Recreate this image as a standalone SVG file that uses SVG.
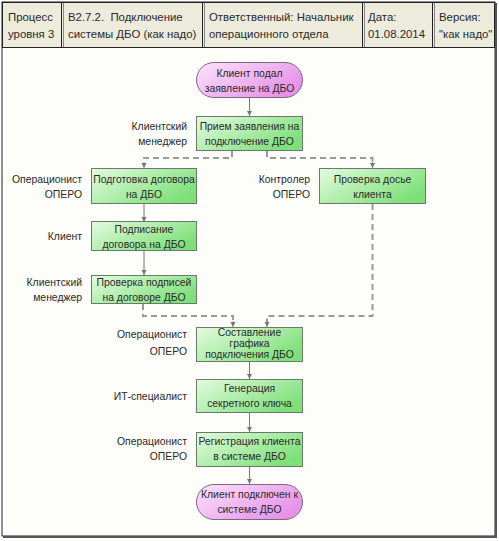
<svg xmlns="http://www.w3.org/2000/svg" width="499" height="541" viewBox="0 0 499 541">
<defs>
<linearGradient id="gGreen" x1="0" y1="0" x2="1" y2="0.6">
<stop offset="0" stop-color="#e4fbe0"/>
<stop offset="1" stop-color="#7fe07a"/>
</linearGradient>
<linearGradient id="gPink" x1="0" y1="0" x2="1" y2="0.6">
<stop offset="0" stop-color="#fde4fd"/>
<stop offset="1" stop-color="#e592e8"/>
</linearGradient>
<marker id="arr" markerWidth="6" markerHeight="6" refX="5" refY="3" orient="auto" markerUnits="userSpaceOnUse">
<path d="M0,0.5 L5,3 L0,5.5 z" fill="#777"/>
</marker>
<style>
text{font-family:"Liberation Sans",Arial,sans-serif;font-size:10.4px;fill:#2a2a2a}
.hdr{font-size:11.4px}
.c{text-anchor:middle}
.r{text-anchor:end}
.box{fill:url(#gGreen);stroke:#6a7a6a;stroke-width:1}
.term{fill:url(#gPink);stroke:#7a6a7a;stroke-width:1}
.solid{fill:none;stroke:#777;stroke-width:1;marker-end:url(#arr)}
.dash{fill:none;stroke:#999;stroke-width:2;stroke-dasharray:6,4}
.dashend{fill:none;stroke:#999;stroke-width:1;marker-end:url(#arr)}
</style>
</defs>
<rect x="0" y="0" width="499" height="541" fill="#ffffff"/>
<rect x="2" y="2" width="493" height="534" fill="#fdfdf9" stroke="#222" stroke-width="1"/>
<rect x="2.5" y="2.5" width="492" height="45" fill="#ecebdc" stroke="#222" stroke-width="1"/>
<g id="header" stroke="#222" stroke-width="1">
<line x1="61.5" y1="2" x2="61.5" y2="48"/>
<line x1="202.5" y1="2" x2="202.5" y2="48"/>
<line x1="362.5" y1="2" x2="362.5" y2="48"/>
<line x1="432.5" y1="2" x2="432.5" y2="48"/>
</g>
<g stroke="#888" stroke-width="1">
<line x1="63.5" y1="3" x2="63.5" y2="47"/>
<line x1="204.5" y1="3" x2="204.5" y2="47"/>
<line x1="364.5" y1="3" x2="364.5" y2="47"/>
<line x1="434.5" y1="3" x2="434.5" y2="47"/>
</g>
<line x1="496" y1="3" x2="496" y2="537" stroke="#555" stroke-width="2"/>
<line x1="3" y1="537" x2="497" y2="537" stroke="#555" stroke-width="2"/>
<g id="header-text">
<text class="hdr" x="8" y="21">Процесс</text>
<text class="hdr" x="8" y="38">уровня 3</text>
<text class="hdr" x="68" y="21" xml:space="preserve">B2.7.2.  Подключение</text>
<text class="hdr" x="68" y="38">системы ДБО (как надо)</text>
<text class="hdr" x="209" y="21">Ответственный: Начальник</text>
<text class="hdr" x="209" y="38">операционного отдела</text>
<text class="hdr" x="368" y="21">Дата:</text>
<text class="hdr" x="368" y="38">01.08.2014</text>
<text class="hdr" x="439" y="21">Версия:</text>
<text class="hdr" x="439" y="38">"как надо"</text>
</g>
<g id="connectors">
<line class="solid" x1="249.5" y1="98" x2="249.5" y2="116"/>
<polyline class="dash" points="232,151 232,158 144,158 144,164"/>
<line class="dashend" x1="144" y1="162" x2="144" y2="168"/>
<polyline class="dash" points="267,151 267,158 372.5,158 372.5,164"/>
<line class="dashend" x1="372.5" y1="162" x2="372.5" y2="168"/>
<line class="solid" x1="144" y1="204" x2="144" y2="222"/>
<line class="solid" x1="144" y1="251" x2="144" y2="275"/>
<polyline class="dash" points="143,304 143,316 233,316 233,323"/>
<line class="dashend" x1="233" y1="321" x2="233" y2="327"/>
<polyline class="dash" points="372.5,204 372.5,316 267,316 267,323"/>
<line class="dashend" x1="267" y1="321" x2="267" y2="327"/>
<line class="solid" x1="249.5" y1="362" x2="249.5" y2="379"/>
<line class="solid" x1="249.5" y1="413" x2="249.5" y2="432"/>
<line class="solid" x1="249.5" y1="467" x2="249.5" y2="484"/>
</g>
<g id="start">
<rect class="term" x="196.5" y="62.5" width="106" height="35" rx="17.5"/>
<text class="c" x="249.5" y="77">Клиент подал</text>
<text class="c" x="249.5" y="92">заявление на ДБО</text>
</g>
<g id="n1">
<rect class="box" x="196.5" y="116.5" width="106" height="34"/>
<text class="r" x="187" y="130">Клиентский</text>
<text class="r" x="187" y="145">менеджер</text>
<text class="c" x="249.5" y="130">Прием заявления на</text>
<text class="c" x="249.5" y="145">подключение ДБО</text>
</g>
<g id="n2">
<rect class="box" x="91.5" y="168.5" width="105" height="35"/>
<text class="r" x="82" y="183">Операционист</text>
<text class="r" x="82" y="198">ОПЕРО</text>
<text class="c" x="144" y="183">Подготовка договора</text>
<text class="c" x="144" y="198">на ДБО</text>
</g>
<g id="n3">
<rect class="box" x="319.5" y="168.5" width="106" height="35"/>
<text class="r" x="310" y="183">Контролер</text>
<text class="r" x="310" y="198">ОПЕРО</text>
<text class="c" x="372.5" y="183">Проверка досье</text>
<text class="c" x="372.5" y="198">клиента</text>
</g>
<g id="n4">
<rect class="box" x="91.5" y="221.5" width="105" height="29"/>
<text class="r" x="82" y="240">Клиент</text>
<text class="c" x="144" y="233">Подписание</text>
<text class="c" x="144" y="248">договора на ДБО</text>
</g>
<g id="n5">
<rect class="box" x="91.5" y="275.5" width="105" height="28"/>
<text class="r" x="82" y="286">Клиентский</text>
<text class="r" x="82" y="301">менеджер</text>
<text class="c" x="144" y="286">Проверка подписей</text>
<text class="c" x="144" y="301">на договоре ДБО</text>
</g>
<g id="n6">
<rect class="box" x="196.5" y="327.5" width="106" height="34"/>
<text class="r" x="187" y="338">Операционист</text>
<text class="r" x="187" y="355">ОПЕРО</text>
<text class="c" x="249.5" y="336">Составление</text>
<text class="c" x="249.5" y="347">графика</text>
<text class="c" x="249.5" y="358">подключения ДБО</text>
</g>
<g id="n7">
<rect class="box" x="196.5" y="379.5" width="106" height="33"/>
<text class="r" x="187" y="400">ИТ-специалист</text>
<text class="c" x="249.5" y="392">Генерация</text>
<text class="c" x="249.5" y="407">секретного ключа</text>
</g>
<g id="n8">
<rect class="box" x="196.5" y="432.5" width="106" height="34"/>
<text class="r" x="187" y="445">Операционист</text>
<text class="r" x="187" y="460">ОПЕРО</text>
<text class="c" x="249.5" y="445">Регистрация клиента</text>
<text class="c" x="249.5" y="460">в системе ДБО</text>
</g>
<g id="end">
<rect class="term" x="196.5" y="484.5" width="106" height="35" rx="17.5"/>
<text class="c" x="249.5" y="498">Клиент подключен к</text>
<text class="c" x="249.5" y="513">системе ДБО</text>
</g>
</svg>
